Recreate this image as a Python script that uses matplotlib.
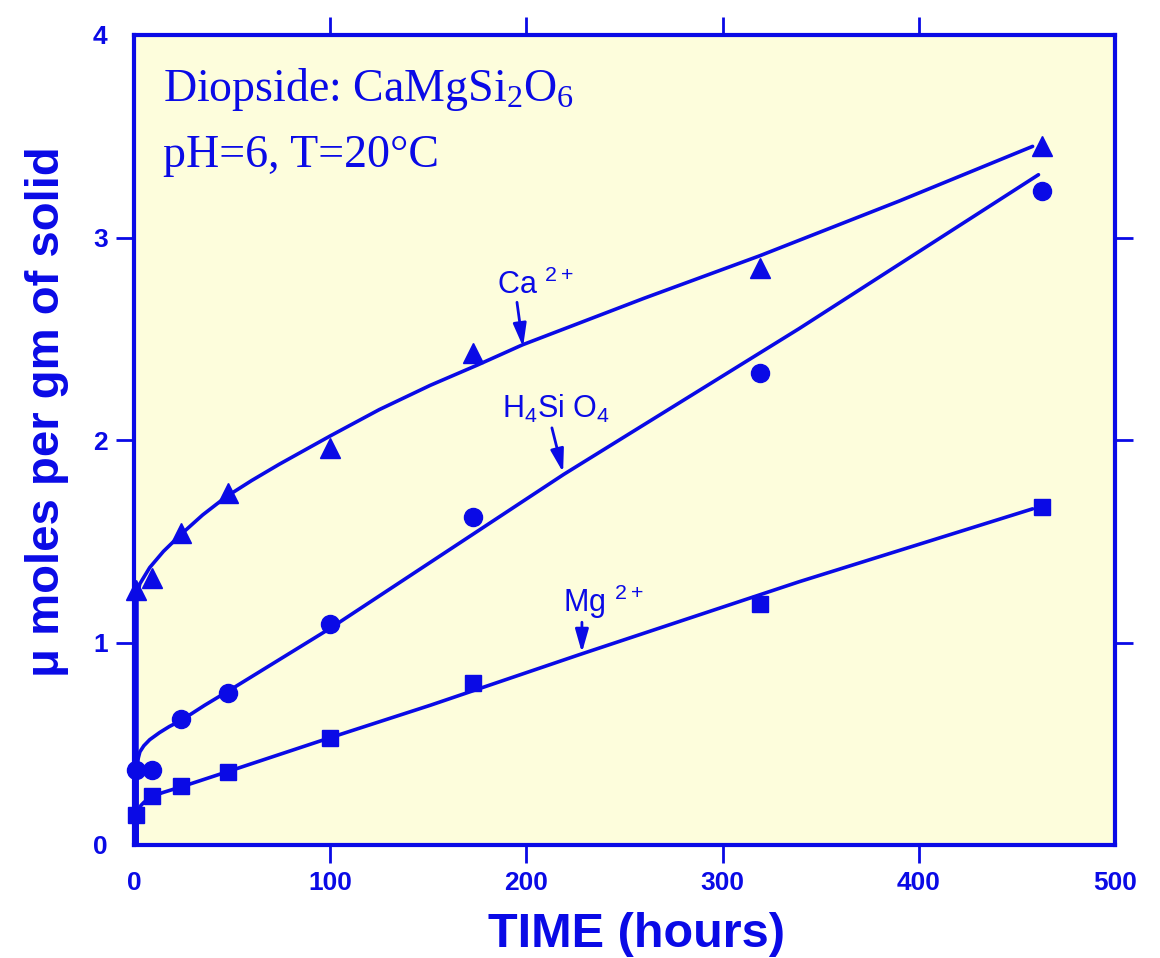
import matplotlib
matplotlib.use("Agg")
import matplotlib.pyplot as plt

BLUE = "#0A0AE6"
PANEL = "#FDFDDC"

# measured points (time in hours, umol per g of solid)
times = [1, 9, 24, 48, 100, 173, 319, 463]
ca = [1.26, 1.32, 1.54, 1.74, 1.96, 2.43, 2.85, 3.45]
h4sio4 = [0.37, 0.37, 0.62, 0.75, 1.09, 1.62, 2.33, 3.23]
mg = [0.15, 0.24, 0.29, 0.36, 0.53, 0.80, 1.19, 1.67]

# hand-drawn trend curves
ca_curve_t = [1.5, 1.5, 2, 3, 8, 15, 23.5, 35, 47, 60, 74, 87, 100, 125, 151, 175, 198, 260, 319, 390, 458]
ca_curve_y = [0, 1.22, 1.25, 1.29, 1.37, 1.45, 1.53, 1.63, 1.72, 1.80, 1.88, 1.95, 2.02,
              2.15, 2.27, 2.37, 2.47, 2.70, 2.91, 3.18, 3.45]
si_curve_t = [1.5, 1.5, 2.2, 3, 5, 8, 13, 18, 24, 36, 48, 100, 219, 339, 461]
si_curve_y = [0, 0.38, 0.43, 0.46, 0.49, 0.52, 0.555, 0.585, 0.615, 0.69, 0.76,
              1.07, 1.83, 2.55, 3.31]
mg_curve_t = [1.5, 1.5, 2.2, 3.5, 5, 7, 9, 15, 25, 47, 100, 151, 227, 339, 458]
mg_curve_y = [0, 0.12, 0.16, 0.195, 0.21, 0.225, 0.24, 0.26, 0.29, 0.36, 0.53,
              0.69, 0.94, 1.30, 1.66]

x_ticks = [0, 100, 200, 300, 400, 500]
y_ticks = [0, 1, 2, 3, 4]

fig = plt.figure(figsize=(11.6, 9.58), dpi=100)
ax = fig.add_axes([134 / 1160, 1 - 845 / 958, 981 / 1160, 810 / 958])
ax.set_facecolor(PANEL)

for t, y in [(ca_curve_t, ca_curve_y), (si_curve_t, si_curve_y), (mg_curve_t, mg_curve_y)]:
    ax.plot(t, y, color=BLUE, lw=2.6, solid_capstyle="round", solid_joinstyle="round",
            clip_on=False, zorder=3)

ax.plot(times, ca, ls="none", marker="^", ms=15, color=BLUE, clip_on=False, zorder=4)
ax.plot(times, h4sio4, ls="none", marker="o", ms=13, color=BLUE, clip_on=False, zorder=4)
ax.plot(times, mg, ls="none", marker="s", ms=11, color=BLUE, clip_on=False, zorder=4)

ax.set_xlim(0, 500)
ax.set_ylim(0, 4)

for s in ax.spines.values():
    s.set_color(BLUE)
    s.set_linewidth(3)

ax.set_xticks(x_ticks)
ax.set_yticks(y_ticks)
ax.tick_params(axis="both", direction="out", length=13, width=2, color=BLUE,
               labelcolor=BLUE, labelsize=19)
ax.tick_params(axis="x", pad=6)
ax.tick_params(axis="y", pad=6)
for lab in ax.get_xticklabels() + ax.get_yticklabels():
    lab.set_fontweight("bold")
    lab.set_family("Liberation Sans")
# no tick marks at the corners
for tk in [ax.xaxis.get_major_ticks()[0], ax.xaxis.get_major_ticks()[-1],
           ax.yaxis.get_major_ticks()[0], ax.yaxis.get_major_ticks()[-1]]:
    tk.tick1line.set_visible(False)

top = ax.secondary_xaxis("top")
top.set_xticks(x_ticks[1:-1])
top.set_xticklabels([])
top.tick_params(direction="out", length=13, width=2, color=BLUE)
top.spines["top"].set_visible(False)
right = ax.secondary_yaxis("right")
right.set_yticks(y_ticks[1:-1])
right.set_yticklabels([])
right.tick_params(direction="out", length=13, width=2, color=BLUE)
right.spines["right"].set_visible(False)

ax.set_xlabel("TIME (hours)", fontsize=35, fontweight="bold", color=BLUE,
              family="Liberation Sans")
ax.xaxis.set_label_coords(0.512, -0.083)
ax.set_ylabel("\u03bc moles per gm of solid", fontsize=34, fontweight="bold",
              color=BLUE, family="Liberation Sans")
ax.yaxis.set_label_coords(-0.066, 0.535)

serif = dict(color=BLUE, fontsize=33, family="Liberation Serif",
             transform=ax.transAxes, va="baseline", ha="left")
ax.text(0.03, 0.918, r"Diopside: CaMgSi$\mathregular{_2}$O$\mathregular{_6}$", **serif)
ax.text(0.03, 0.837, "pH=6, T=20\u00b0C", **serif)

arrow = dict(arrowstyle="-|>,head_length=0.7,head_width=0.2", color=BLUE, lw=2,
             shrinkA=0, shrinkB=0, mutation_scale=20)
lab = dict(color=BLUE, fontsize=22, family="Liberation Sans", va="baseline", ha="left")
ax.text(185, 2.72, r"Ca $\mathregular{^{2+}}$", **lab)
ax.annotate("", xy=(198.3, 2.46), xytext=(195.2, 2.68), arrowprops=arrow)
ax.text(187.6, 2.11, r"H$\mathregular{_4}$Si O$\mathregular{_4}$", **lab)
ax.annotate("", xy=(218.7, 1.84), xytext=(213, 2.06), arrowprops=arrow)
ax.text(218.7, 1.15, r"Mg $\mathregular{^{2+}}$", **lab)
ax.annotate("", xy=(228.3, 0.95), xytext=(228.3, 1.10), arrowprops=arrow)

fig.savefig("out.png", dpi=100, facecolor="white")
